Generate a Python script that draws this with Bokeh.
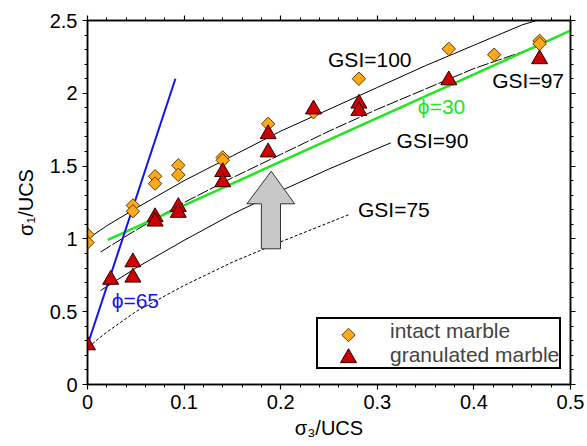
from bokeh.plotting import figure
from bokeh.models import (LinearAxis, Range1d, SingleIntervalTicker, CustomJSTickFormatter,
                          Legend, LegendItem)
from bokeh.core.properties import value
from bokeh.embed import file_html
from bokeh.resources import INLINE

# ---------------- data ----------------
s3_intact = [0, 0, 0.047, 0.047, 0.070, 0.070, 0.094, 0.094, 0.140, 0.140,
             0.187, 0.234, 0.281, 0.374, 0.421, 0.468, 0.468]
s1_intact = [1.03, 0.975, 1.23, 1.19, 1.43, 1.38, 1.505, 1.44, 1.56, 1.54,
             1.79, 1.87, 2.10, 2.305, 2.265, 2.36, 2.34]

s3_gran = [0, 0.024, 0.047, 0.047, 0.070, 0.070, 0.094, 0.094, 0.140, 0.140,
           0.187, 0.187, 0.234, 0.281, 0.281, 0.374, 0.468]
s1_gran = [0.27, 0.72, 0.84, 0.735, 1.15, 1.12, 1.22, 1.18, 1.46, 1.39,
           1.72, 1.595, 1.89, 1.93, 1.88, 2.09, 2.235]

gsi100_x = [0, 0.02, 0.05, 0.10, 0.15, 0.20, 0.25, 0.30, 0.35, 0.40, 0.45, 0.465]
gsi100_y = [1.00, 1.09, 1.21, 1.40, 1.57, 1.74, 1.89, 2.04, 2.19, 2.33, 2.47, 2.50]

gsi97_x = [0.0135, 0.05, 0.10, 0.15, 0.20, 0.25, 0.30, 0.35, 0.40, 0.47]
gsi97_y = [0.91, 1.06, 1.25, 1.42, 1.58, 1.74, 1.89, 2.03, 2.17, 2.33]

gsi90_x = [0.0135, 0.05, 0.10, 0.15, 0.20, 0.25, 0.314]
gsi90_y = [0.645, 0.80, 0.99, 1.17, 1.33, 1.48, 1.66]

gsi75_x = [0.005, 0.02, 0.05, 0.10, 0.15, 0.20, 0.272]
gsi75_y = [0.28, 0.36, 0.50, 0.68, 0.84, 0.98, 1.17]

phi30_x = [0.021, 0.5]
phi30_y = [0.994, 2.43]
phi65_x = [0.0, 0.091]
phi65_y = [0.27, 2.10]

arrow_x = [0.180, 0.1998, 0.1998, 0.2145, 0.1902, 0.165, 0.180]
arrow_y = [0.932, 0.932, 1.241, 1.241, 1.465, 1.241, 1.241]

gsi_labels = ["GSI=100", "GSI=97", "GSI=90", "GSI=75"]
gsi_label_x = [0.249, 0.419, 0.320, 0.280]
gsi_label_y = [2.235, 2.09, 1.679, 1.202]

phi_labels = ["\u03d5=30", "\u03d5=65"]
phi_label_x = [0.342, 0.025]
phi_label_y = [1.906, 0.577]

x_label = "\u03c3\u2083/UCS"
y_label = "\u03c3\u2081/UCS"
legend_labels = ["intact marble", "granulated marble"]

FONT = "Liberation Sans"
BLUE = "#1414ee"
GREEN = "#22e622"
ORANGE = "#FFA91A"
RED = "#CC0000"

X0, X1, Y0, Y1 = 0.0, 0.5, 0.0, 2.5
FRAME_W, FRAME_H = 483, 364

p = figure(width=587, height=446, x_range=Range1d(X0, X1), y_range=Range1d(Y0, Y1),
           output_backend="svg", toolbar_location=None,
           x_axis_location=None, y_axis_location=None,
           min_border_left=87, min_border_right=17, min_border_top=20, min_border_bottom=62)
p.grid.visible = False
p.outline_line_color = "black"
p.outline_line_width = 1.5
p.background_fill_color = "white"
p.border_fill_color = "white"

fmt = CustomJSTickFormatter(code="return String(parseFloat(tick.toFixed(2)))")


def make_axis(interval, labels=True, label=""):
    ax = LinearAxis(ticker=SingleIntervalTicker(interval=interval, num_minor_ticks=5),
                    formatter=fmt)
    ax.axis_line_width = 1.5
    ax.major_tick_line_width = 1.2
    ax.minor_tick_line_width = 1
    ax.major_tick_in = 0
    ax.major_tick_out = 5
    ax.minor_tick_in = 0
    ax.minor_tick_out = 3
    if labels:
        ax.major_label_text_font = FONT
        ax.major_label_text_font_size = "20px"
        ax.major_label_text_color = "black"
        ax.major_label_standoff = 5
    else:
        ax.major_label_text_color = None
    if label:
        ax.axis_label = label
        ax.axis_label_text_font = FONT
        ax.axis_label_text_font_size = "20px"
        ax.axis_label_text_font_style = "normal"
        ax.axis_label_text_color = "black"
    return ax


xb = make_axis(0.1, True, x_label)
xb.axis_label_standoff = 5
yl = make_axis(0.5, True, y_label)
yl.axis_label_standoff = 10
xt = make_axis(0.1, False)
yr = make_axis(0.5, False)
p.add_layout(xb, "below")
p.add_layout(yl, "left")
p.add_layout(xt, "above")
p.add_layout(yr, "right")

# curves
p.line(gsi100_x, gsi100_y, line_color="black", line_width=1)
p.line(gsi97_x, gsi97_y, line_color="black", line_width=1, line_dash="12 2")
p.line(gsi90_x, gsi90_y, line_color="black", line_width=1)
p.line(gsi75_x, gsi75_y, line_color="black", line_width=1, line_dash="3 2")
p.line(phi30_x, phi30_y, line_color=GREEN, line_width=2.5)
p.line(phi65_x, phi65_y, line_color=BLUE, line_width=2)

# arrow
p.patch(arrow_x, arrow_y, fill_color="#C8C8C8", line_color="#333333", line_width=1)

diamond_style = dict(marker="square", angle=0.785398, size=9.5,
                     fill_color=ORANGE, line_color="#5a3a00", line_width=1)
triangle_style = dict(marker="triangle", size=16,
                      fill_color=RED, line_color="#300000", line_width=1)

# markers
p.scatter(s3_intact, s1_intact, **diamond_style)
p.scatter(s3_gran, s1_gran, **triangle_style)

# labels
p.text(gsi_label_x, gsi_label_y, text=gsi_labels, text_font=value(FONT),
       text_font_size=value("21px"), text_color="black",
       text_align="left", text_baseline="middle")
p.text(phi_label_x[:1], phi_label_y[:1], text=phi_labels[:1], text_font=value(FONT),
       text_font_size=value("21px"), text_color=GREEN,
       text_align="left", text_baseline="middle")
p.text(phi_label_x[1:], phi_label_y[1:], text=phi_labels[1:], text_font=value(FONT),
       text_font_size=value("21px"), text_color=BLUE,
       text_align="left", text_baseline="middle")

# legend (text + box, transparent); keys drawn as glyphs in the legend's key slots
LEG_LEFT, LEG_BOTTOM, KEY_W, ROW_H = 229, 15, 64, 23
dummy_a = p.scatter([], [], marker="square", fill_alpha=0, line_alpha=0)
dummy_b = p.scatter([], [], marker="triangle", fill_alpha=0, line_alpha=0)
legend = Legend(items=[LegendItem(label=legend_labels[0], renderers=[dummy_a]),
                       LegendItem(label=legend_labels[1], renderers=[dummy_b])],
                location=(LEG_LEFT, LEG_BOTTOM), padding=0, margin=0, spacing=0,
                glyph_width=KEY_W, glyph_height=ROW_H, label_height=ROW_H, label_standoff=8,
                border_line_color="black", border_line_width=2, border_line_alpha=1,
                label_text_font=FONT, label_text_font_size="21px",
                background_fill_alpha=0)
p.add_layout(legend)

key_x = X0 + (LEG_LEFT + KEY_W / 2) / FRAME_W * (X1 - X0)
key_y_top = Y0 + (LEG_BOTTOM + 1.5 * ROW_H) / FRAME_H * (Y1 - Y0)
key_y_bot = Y0 + (LEG_BOTTOM + 0.5 * ROW_H) / FRAME_H * (Y1 - Y0)
p.scatter([key_x], [key_y_top], **diamond_style)
p.scatter([key_x], [key_y_bot], **triangle_style)

open("out.html", "w").write(file_html(p, INLINE))
